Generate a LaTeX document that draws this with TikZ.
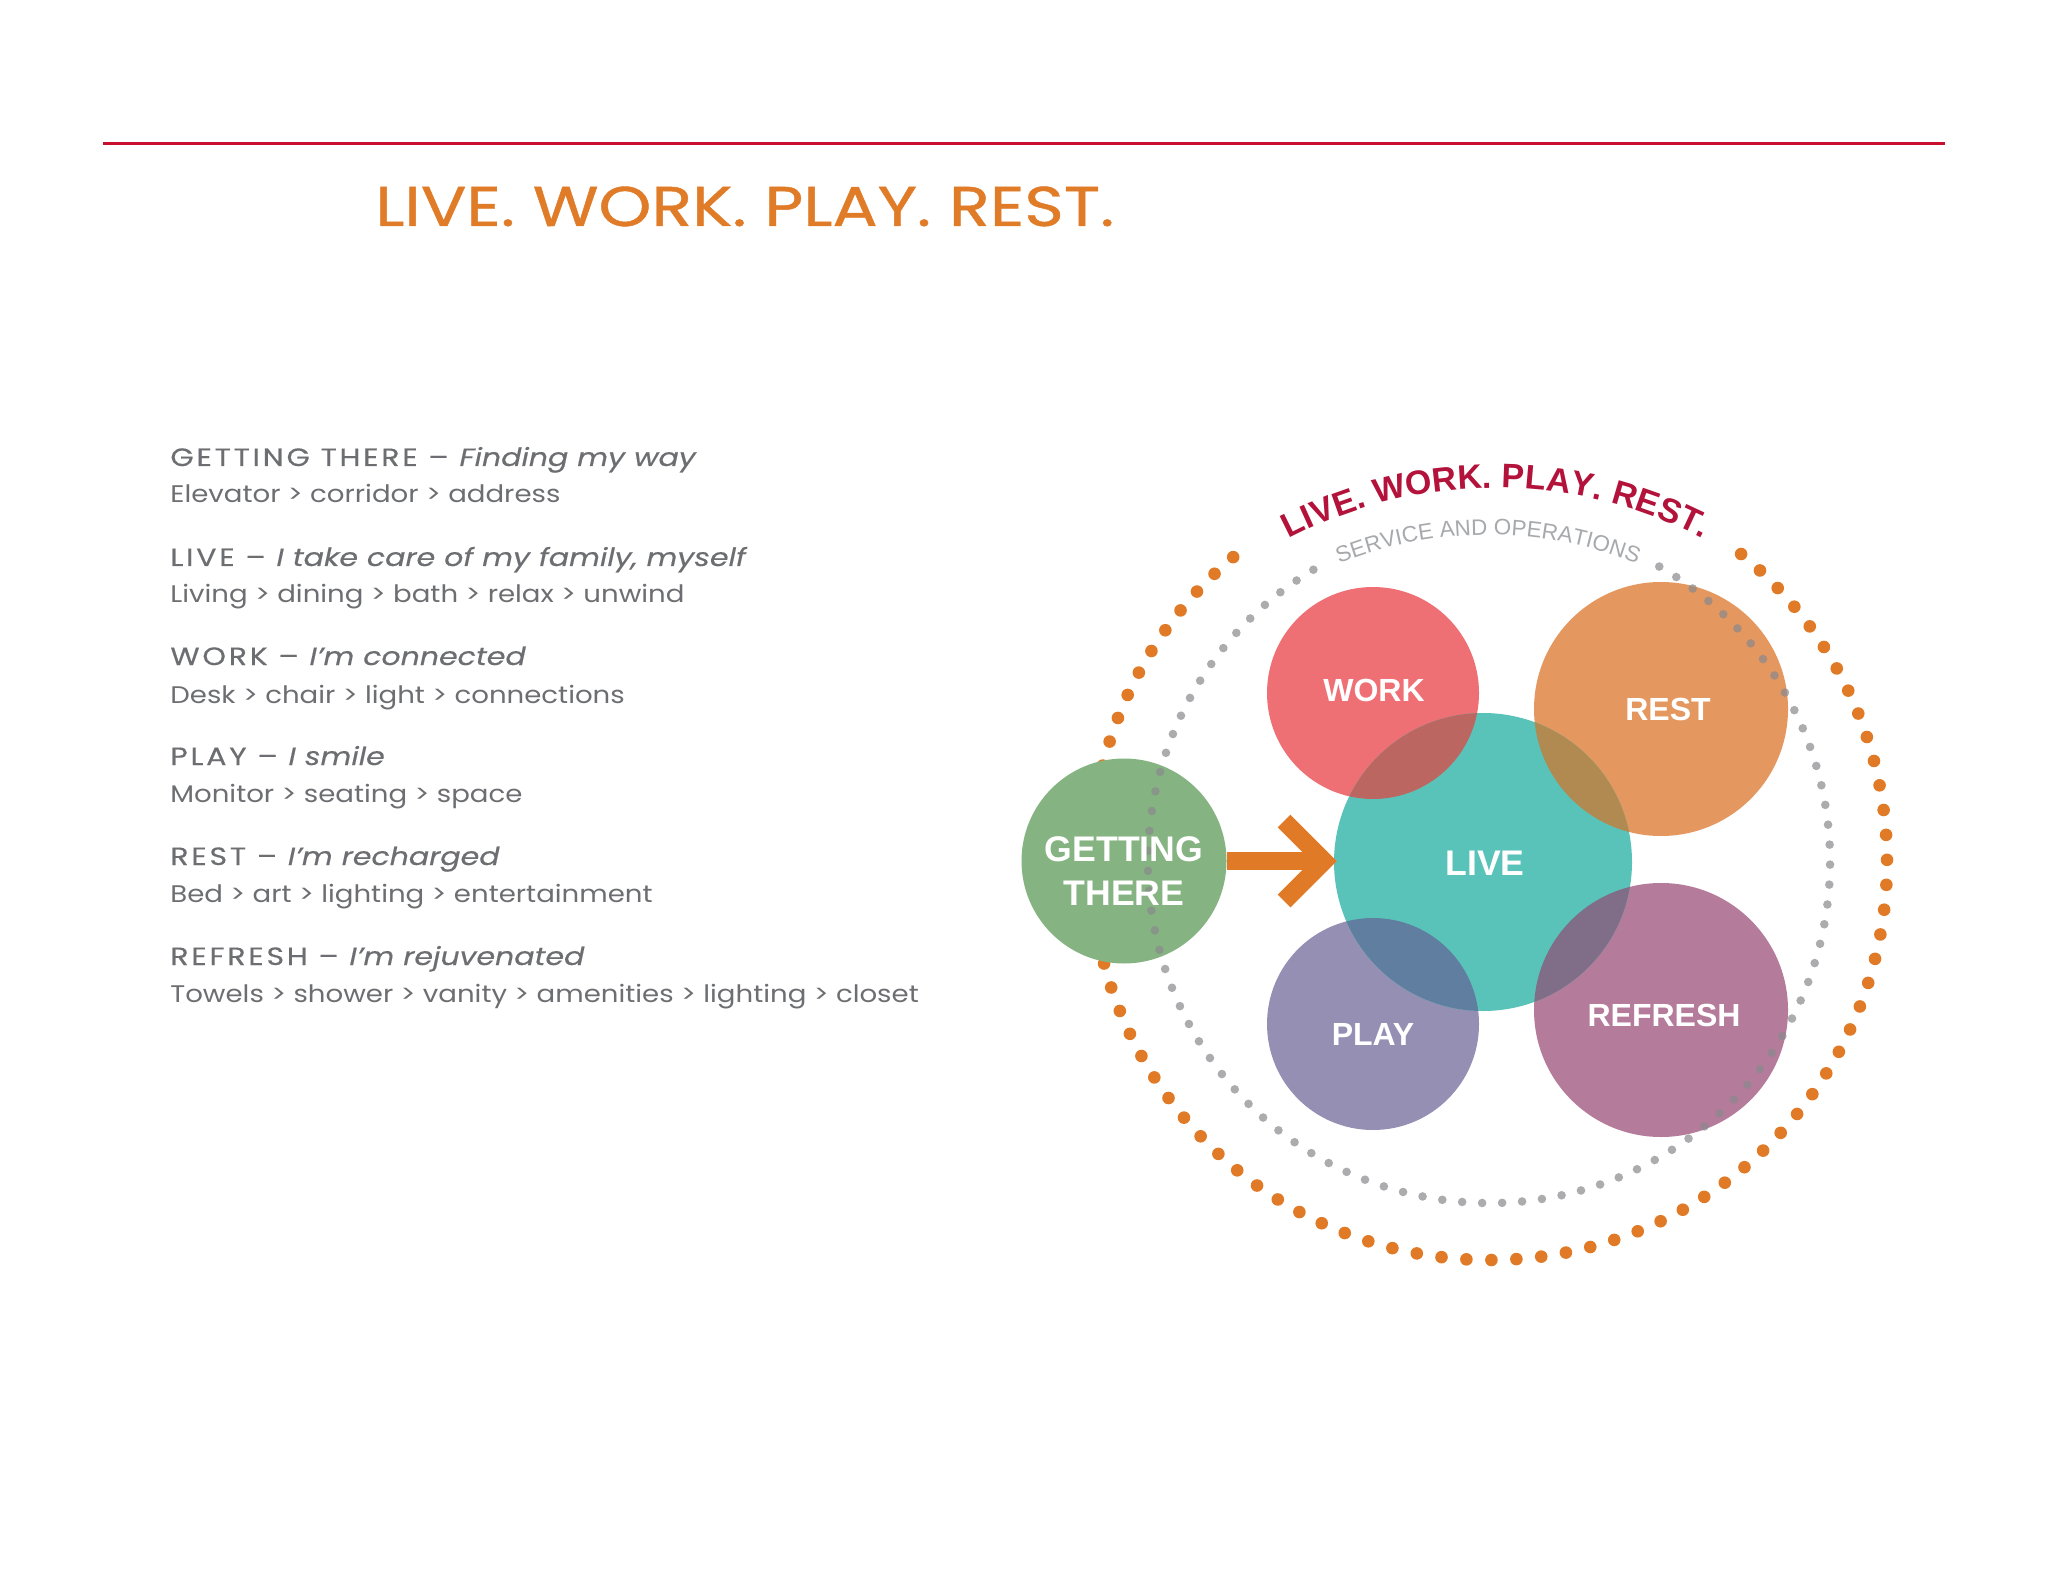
\documentclass[tikz,border=0pt]{standalone}
\usepackage{fontspec}
\setmainfont{Poppins}
\newfontfamily\helv{Liberation Sans}
\newfontfamily\headcaps{Poppins}[FakeStretch=1.2, LetterSpace=11, FakeBold=0.4]
\newfontfamily\headital{Poppins}[FakeStretch=1.2, FakeBold=0.4]
\newfontfamily\bodyfont{Poppins}[FakeStretch=1.15]
\newfontfamily\titlefont{Poppins}[FakeStretch=1.2, FakeBold=0.8]
\usetikzlibrary{decorations.text}
\definecolor{rulered}{HTML}{C8102E}
\definecolor{titleorange}{HTML}{E07B28}
\definecolor{txtgray}{HTML}{6D6E71}
\definecolor{arcred}{HTML}{B3123A}
\definecolor{arcgray}{HTML}{A7A9AC}
\definecolor{dotorange}{HTML}{E07A26}
\definecolor{dotgray}{HTML}{8A8A8E}
\definecolor{cgt}{HTML}{86B382}
\definecolor{clive}{HTML}{5AC3B9}
\definecolor{cwork}{HTML}{EE7075}
\definecolor{crest}{HTML}{E4975F}
\definecolor{cplay}{HTML}{958FB4}
\definecolor{crefresh}{HTML}{B57B9B}
\definecolor{ovwork}{HTML}{BB6660}
\definecolor{ovrest}{HTML}{B08A50}
\definecolor{ovplay}{HTML}{607FA0}
\definecolor{ovrefresh}{HTML}{806E88}
\begin{document}
\begin{tikzpicture}[x=0.5pt,y=0.5pt,
  bubble/.style={circle, inner sep=0pt, outer sep=0pt, draw=none},
  bublabel/.style={text=white, font=\helv\bfseries\fontsize{16}{19}\selectfont, align=center, inner sep=0pt},
  bigbublabel/.style={bublabel, font=\helv\bfseries\fontsize{17.8}{22}\selectfont},
  headtext/.style={anchor=base west, inner sep=0pt, text=txtgray, font=\headcaps\fontsize{12.5}{15}\selectfont},
  bodytext/.style={anchor=base west, inner sep=0pt, text=txtgray, font=\bodyfont\fontsize{12}{14}\selectfont},
  orangedots/.style={draw=dotorange, line width=6.3pt, line cap=round, dash pattern=on 0pt off 12.5pt},
  graydots/.style={draw=dotgray, draw opacity=0.7, line width=4.3pt, line cap=round, dash pattern=on 0pt off 10pt},
  arrowline/.style={draw=dotorange, line width=9pt},
]
\fill[white] (0,0) rectangle (2048,-1582);
\useasboundingbox (0,0) rectangle (2048,-1582);

% header
\draw[rulered, line width=1.5pt] (103,-144) -- (1945,-144);
\node[anchor=base west, inner sep=0pt, text=titleorange, font=\titlefont\fontsize{28}{32}\selectfont] (title) at (375,-226) {LIVE. WORK. PLAY. REST.};

% left text
\newcommand{\hit}[1]{{\headital\itshape #1}}
\node[headtext] (h1) at (170,-466) {GETTING THERE – \hit{Finding my way}};
\node[bodytext] (b1) at (170,-503) {Elevator > corridor > address};
\node[headtext] (h2) at (170,-566) {LIVE – \hit{I take care of my family, myself}};
\node[bodytext] (b2) at (170,-603) {Living > dining > bath > relax > unwind};
\node[headtext] (h3) at (170,-665) {WORK – \hit{I’m connected}};
\node[bodytext] (b3) at (170,-703) {Desk > chair > light > connections};
\node[headtext] (h4) at (170,-765) {PLAY – \hit{I smile}};
\node[bodytext] (b4) at (170,-802) {Monitor > seating > space};
\node[headtext] (h5) at (170,-865) {REST – \hit{I’m recharged}};
\node[bodytext] (b5) at (170,-902) {Bed > art > lighting > entertainment};
\node[headtext] (h6) at (170,-965) {REFRESH – \hit{I’m rejuvenated}};
\node[bodytext] (b6) at (170,-1002) {Towels > shower > vanity > amenities > lighting > closet};

% rings
\coordinate (ringc) at (1489,-862);
\coordinate (arcc) at (1496,-935);
\coordinate (arcg) at (1488,-935);
\draw[orangedots] (ringc) ++(130:398) arc[start angle=130, end angle=413, radius=398];

% bubbles
\node[bubble, fill=cgt, minimum size=102.5pt] (gt) at (1124,-861) {};
\node[bubble, fill=cwork, minimum size=106pt] (work) at (1373,-693) {};
\node[bubble, fill=crest, minimum size=127pt] (rest) at (1661,-709) {};
\node[bubble, fill=cplay, minimum size=106pt] (play) at (1373,-1024) {};
\node[bubble, fill=crefresh, minimum size=127pt] (refresh) at (1661,-1010) {};
\node[bubble, fill=clive, minimum size=149pt] (live) at (1483,-862) {};
\begin{scope}\clip (work.center) circle[radius=106]; \fill[ovwork] (live.center) circle[radius=149];\end{scope}
\begin{scope}\clip (rest.center) circle[radius=127]; \fill[ovrest] (live.center) circle[radius=149];\end{scope}
\begin{scope}\clip (play.center) circle[radius=106]; \fill[ovplay] (live.center) circle[radius=149];\end{scope}
\begin{scope}\clip (refresh.center) circle[radius=127]; \fill[ovrefresh] (live.center) circle[radius=149];\end{scope}

\draw[graydots] (ringc) ++(121:341) arc[start angle=121, end angle=422, radius=341];

% arc texts
\path[decorate, decoration={text along path, text align=center,
  text={|\helv\bfseries\fontsize{17}{20}\selectfont\color{arcred}|LIVE. WORK. PLAY. REST.}}]
  (arcc) ++(125:447) arc[start angle=125, end angle=55, radius=447];
\path[decorate, decoration={text along path, text align=center,
  text={|\helv\fontsize{11.2}{13}\selectfont\color{arcgray}|SERVICE AND OPERATIONS}}]
  (arcg) ++(120:400) arc[start angle=120, end angle=60, radius=400];

% labels
\node[bigbublabel] (gtl) at (gt.center) [yshift=-5pt] {GETTING\\THERE};
\node[bublabel] (workl) at (1374,-690) {WORK};
\node[bublabel] (restl) at (1668,-709) {REST};
\node[bublabel] (playl) at (1373,-1034) {PLAY};
\node[bublabel] (refreshl) at (1664,-1015) {REFRESH};
\node[bigbublabel] (livel) at (1485,-863) {LIVE};

% arrow
\coordinate (chevtip) at (1324,-861);
\coordinate (chevtop) at (1284,-821);
\coordinate (chevbot) at (1284,-901);
\draw[arrowline] (gt.east) -- (chevtip);
\draw[arrowline, line join=miter] (chevtop) -- (chevtip) -- (chevbot);
\end{tikzpicture}
\end{document}
